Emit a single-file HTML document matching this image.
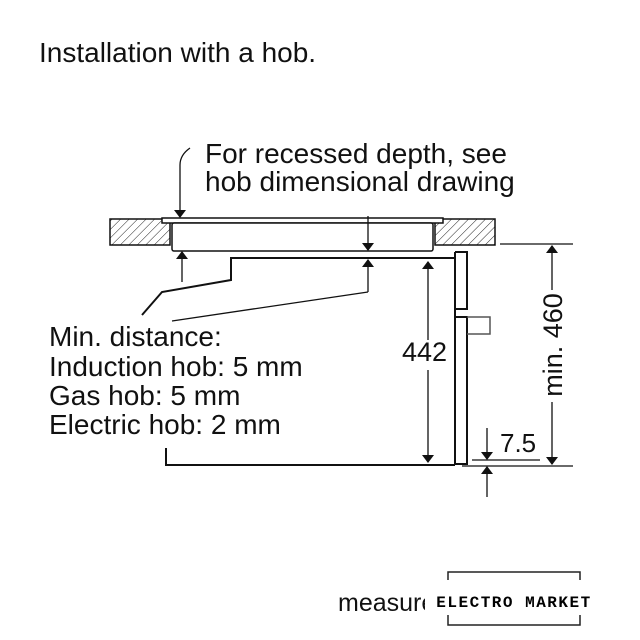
<!DOCTYPE html>
<html><head><meta charset="utf-8"><style>
body{margin:0;background:#fff;}
svg{display:block;font-family:"Liberation Sans",sans-serif;}
</style></head><body>
<svg width="640" height="640" viewBox="0 0 640 640">
<defs>
<pattern id="h" width="6" height="6" patternUnits="userSpaceOnUse" patternTransform="rotate(45)">
<line x1="0" y1="0" x2="0" y2="6" stroke="#222" stroke-width="1"/></pattern>
<marker id="a" markerWidth="8" markerHeight="12" refX="7" refY="6" orient="auto" markerUnits="userSpaceOnUse">
<path d="M0,0 L8,6 L0,12 z" fill="#111"/></marker>
</defs>
<g font-size="28" fill="#111">
<text x="39" y="62">Installation with a hob.</text>
<text x="205" y="163">For recessed depth, see</text>
<text x="205" y="191">hob dimensional drawing</text>
<text x="49" y="346">Min. distance:</text>
<text x="49" y="376">Induction hob: 5 mm</text>
<text x="49" y="405">Gas hob: 5 mm</text>
<text x="49" y="434">Electric hob: 2 mm</text>
<text x="402" y="361" font-size="27">442</text>
<text x="500" y="452" font-size="26">7.5</text>
<text transform="translate(562,345) rotate(-90)" text-anchor="middle" font-size="27">min. 460</text>
<text x="338" y="611" font-size="25">measure</text>
</g>
<rect x="425" y="578" width="180" height="50" fill="#fff"/>
<path d="M448,580 V572 H580 V580 M448,615 V625 H580 V615" fill="none" stroke="#222" stroke-width="1.5"/>
<text x="514" y="607" text-anchor="middle" font-family="'Liberation Mono',monospace" font-size="16" font-weight="bold" letter-spacing="1.5">ELECTRO MARKET</text>
<g stroke="#111" stroke-width="2" fill="none">
<rect x="110" y="219" width="60" height="26" fill="url(#h)" stroke-width="1.5"/>
<rect x="435" y="219" width="60" height="26" fill="url(#h)" stroke-width="1.5"/>
<rect x="162" y="218" width="281" height="5" fill="#fff" stroke-width="1.5"/>
<rect x="172" y="223" width="261" height="28" rx="2" fill="#fff" stroke-width="1.5"/>
<line x1="500" y1="244" x2="573" y2="244" stroke-width="1.2"/>
<path d="M455,258 H231 V280 L162,292 L142,315"/>
<path d="M166,448 V465 H455"/>
<path d="M455,252 H467 V309 H455 M455,317 H467 V464 H455 V252"/>
<path d="M467,317 H490 V334 H467" stroke-width="1.5" stroke="#555"/>
<line x1="462" y1="466" x2="573" y2="466" stroke-width="1.2"/>
<line x1="472" y1="460" x2="540" y2="460" stroke-width="1.2"/>
<g stroke-width="1.3">
<line x1="428" y1="340" x2="428" y2="262" marker-end="url(#a)"/>
<line x1="428" y1="370" x2="428" y2="462" marker-end="url(#a)"/>
<line x1="552" y1="290" x2="552" y2="246" marker-end="url(#a)"/>
<line x1="552" y1="402" x2="552" y2="464" marker-end="url(#a)"/>
<line x1="487" y1="428" x2="487" y2="459" marker-end="url(#a)"/>
<line x1="487" y1="497" x2="487" y2="467" marker-end="url(#a)"/>
<line x1="182" y1="282" x2="182" y2="252" marker-end="url(#a)"/>
<line x1="368" y1="216" x2="368" y2="250" marker-end="url(#a)"/>
<path d="M368,292 V260" marker-end="url(#a)"/>
<path d="M368,292 L172,321"/>
<path d="M190,148 Q180,155 180,165 V217" marker-end="url(#a)"/>
</g>
</g>
</svg>
</body></html>
